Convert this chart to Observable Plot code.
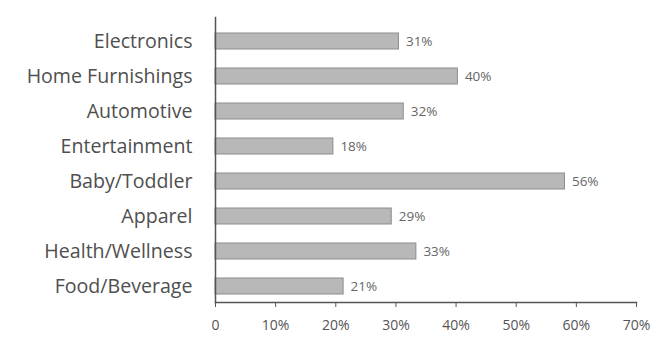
<!DOCTYPE html>
<html>
<head>
<meta charset="utf-8">
<script src="https://cdn.jsdelivr.net/npm/d3@7"></script>
<script src="https://cdn.jsdelivr.net/npm/@observablehq/plot@0.6"></script>
<style>
  html, body { margin: 0; padding: 0; background: #fff; }
  #chart { width: 667px; height: 342px; }
</style>
</head>
<body>
<div id="chart"></div>
<script>
const categories = ["Electronics", "Home Furnishings", "Automotive", "Entertainment", "Baby/Toddler", "Apparel", "Health/Wellness", "Food/Beverage"];
const values = [30.5, 40.3, 31.3, 19.6, 58.1, 29.3, 33.4, 21.3];
const valueLabels = ["31%", "40%", "32%", "18%", "56%", "29%", "33%", "21%"];
const xTicks = [0, 10, 20, 30, 40, 50, 60, 70];
const xTickLabels = ["0", "10%", "20%", "30%", "40%", "50%", "60%", "70%"];

const data = categories.map((c, i) => ({category: c, value: values[i], label: valueLabels[i]}));

const chart = Plot.plot({
  width: 667,
  height: 342,
  marginTop: 17,
  marginBottom: 40,
  marginLeft: 215,
  marginRight: 31,
  style: {fontFamily: "'Open Sans', sans-serif", color: "#555", background: "transparent"},
  x: {domain: [0, 70], ticks: xTicks},
  y: {domain: categories, paddingInner: 0.55, paddingOuter: 0.3, align: 0.66},
  marks: [
    Plot.barX(data, {x: "value", y: "category", fill: "#b8b8b8", stroke: "#8c8c8c", strokeWidth: 1}),
    Plot.text(data, {x: "value", y: "category", text: "label", textAnchor: "start", dx: 7, fontSize: 13.5, fill: "#666"}),
    Plot.axisY({tickSize: 0, tickPadding: 23, fontSize: 19.6, label: null, color: "#4f4f4f"}),
    Plot.axisX({ticks: xTicks, tickFormat: (d, i) => xTickLabels[i], tickSize: 5, tickPadding: 13, fontSize: 14, label: null, color: "#555"}),
    Plot.frame({anchor: "left", stroke: "#555", strokeWidth: 1.5}),
    Plot.frame({anchor: "bottom", stroke: "#555", strokeWidth: 1.5})
  ]
});
document.getElementById("chart").appendChild(chart);
</script>
</body>
</html>
